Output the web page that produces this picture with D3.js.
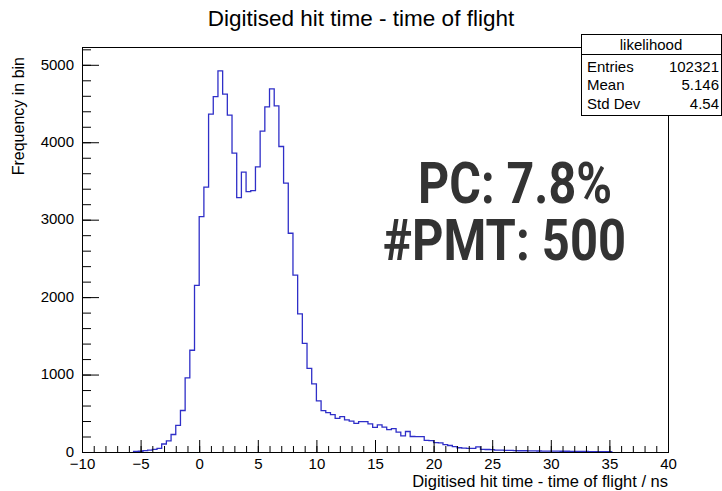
<!DOCTYPE html>
<html>
<head>
    <meta charset="utf-8">
    <title>Digitised hit time - time of flight</title>
    <script src="https://d3js.org/d3.v7.min.js"></script>
    <style>
        body { margin: 0; background: #fff; }
        text { font-family: "Liberation Sans", Arial, sans-serif; }
    </style>
</head>
<body>
    <div id="chart"></div>

    <script>
        // Histogram: bins of 0.4 ns starting at -5.6 ns
        var binStart = -5.6;
        var binWidth = 0.4;
        var counts = [
            8, 10, 18, 25, 35, 47, 103, 144, 226, 345, 536, 958, 1314, 2152,
            3040, 3420, 4363, 4590, 4922, 4621, 4350, 3859, 3286, 3613, 3363, 3376,
            3682, 4143, 4457, 4690, 4470, 3945, 3471, 2825, 2285, 1783, 1404, 1081,
            880, 660, 534, 508, 482, 435, 458, 415, 400, 370, 392, 392, 362, 319,
            350, 322, 288, 303, 256, 209, 265, 200, 198, 198, 150, 148, 120, 118,
            96, 84, 69, 55, 50, 48, 48, 66, 34, 32, 30, 25, 24, 22, 22, 17, 16, 16,
            15, 14, 13, 12, 12, 11, 11, 10, 10, 9, 9, 8, 7, 5, 5, 4, 4, 3
        ];

        // Axis ranges and ticks
        var xDomain = [-10, 40];
        var yMax = 5230;
        var xMajorTicks = [-10, -5, 0, 5, 10, 15, 20, 25, 30, 35, 40];
        var xMinorTicks = d3.range(-10, 41, 1);
        var yMajorTicks = [0, 1000, 2000, 3000, 4000, 5000];
        var yMinorTicks = d3.range(0, 5201, 200);

        // Stats box
        var statsTitle = "likelihood";
        var statsLabels = ["Entries", "Mean", "Std Dev"];
        var statsValues = ["102321", "5.146", "4.54"];

        // Annotation
        var noteLines = ["PC: 7.8%", "#PMT: 500"];

        var W = 722, H = 491;
        var frame = { left: 82, right: 668, top: 47, bottom: 452 };

        var svg = d3.select("#chart")
            .append("svg")
            .attr("width", W)
            .attr("height", H);

        var x = d3.scaleLinear().domain(xDomain).range([frame.left, frame.right]);
        var y = d3.scaleLinear().domain([0, yMax]).range([frame.bottom, frame.top]);

        // title
        svg.append("text")
            .attr("x", W / 2)
            .attr("y", 26)
            .attr("text-anchor", "middle")
            .style("font-size", "22.5px")
            .text("Digitised hit time - time of flight");

        // histogram outline
        var pts = [[binStart, 0]];
        counts.forEach(function(c, i) { pts.push([binStart + i * binWidth, c]); });
        pts.push([binStart + counts.length * binWidth, 0]);

        var line = d3.line()
            .x(function(d) { return x(d[0]); })
            .y(function(d) { return y(d[1]); })
            .curve(d3.curveStepAfter);

        svg.append("path")
            .datum(pts)
            .attr("fill", "none")
            .attr("stroke", "#2f2fc8")
            .attr("stroke-width", 1.3)
            .attr("d", line);

        // frame
        svg.append("rect")
            .attr("x", frame.left + 0.5)
            .attr("y", frame.top + 0.5)
            .attr("width", frame.right - frame.left)
            .attr("height", frame.bottom - frame.top)
            .attr("fill", "none")
            .attr("stroke", "#000");

        // x axis: minor, then major with labels
        svg.append("g")
            .attr("transform", "translate(0," + frame.bottom + ")")
            .call(d3.axisBottom(x).tickValues(xMinorTicks).tickSize(-6).tickFormat(""))
            .call(function(g) { g.select(".domain").remove(); });

        svg.append("g")
            .attr("class", "x-axis")
            .attr("transform", "translate(0," + frame.bottom + ")")
            .call(d3.axisBottom(x).tickValues(xMajorTicks).tickSize(-12).tickPadding(6))
            .call(function(g) { g.select(".domain").remove(); });

        // y axis
        svg.append("g")
            .attr("transform", "translate(" + frame.left + ",0)")
            .call(d3.axisLeft(y).tickValues(yMinorTicks).tickSize(-9).tickFormat(""))
            .call(function(g) { g.select(".domain").remove(); });

        svg.append("g")
            .attr("class", "y-axis")
            .attr("transform", "translate(" + frame.left + ",0)")
            .call(d3.axisLeft(y).tickValues(yMajorTicks).tickSize(-17).tickPadding(8)
                .tickFormat(d3.format("d")))
            .call(function(g) { g.select(".domain").remove(); });

        svg.selectAll(".x-axis text, .y-axis text")
            .attr("fill", "#000")
            .style("font-family", "'Liberation Sans', Arial, sans-serif")
            .style("font-size", "15px");
        svg.select(".y-axis").selectAll(".tick text").attr("dy", "0.28em");
        svg.selectAll(".tick line").attr("stroke", "#000");

        // axis titles
        svg.append("text")
            .attr("x", frame.right)
            .attr("y", 487)
            .attr("text-anchor", "end")
            .style("font-size", "16.5px")
            .text("Digitised hit time - time of flight / ns");

        svg.append("text")
            .attr("transform", "translate(24," + (frame.top + 10) + ") rotate(-90)")
            .attr("text-anchor", "end")
            .style("font-size", "16px")
            .text("Frequency in bin");

        // stats box
        var box = svg.append("g").attr("transform", "translate(581,34)");
        box.append("rect")
            .attr("x", 0.5).attr("y", 0.5)
            .attr("width", 140).attr("height", 81)
            .attr("fill", "#fff").attr("stroke", "#000");
        box.append("line")
            .attr("x1", 0).attr("x2", 141)
            .attr("y1", 20.5).attr("y2", 20.5)
            .attr("stroke", "#000");
        box.append("text")
            .attr("x", 70).attr("y", 16)
            .attr("text-anchor", "middle")
            .style("font-size", "15px")
            .text(statsTitle);
        statsLabels.forEach(function(lab, i) {
            box.append("text")
                .attr("x", 6).attr("y", 38 + i * 18.3)
                .style("font-size", "15px")
                .text(lab);
            box.append("text")
                .attr("x", 138).attr("y", 38 + i * 18.3)
                .attr("text-anchor", "end")
                .style("font-size", "15px")
                .text(statsValues[i]);
        });

        // big annotation
        var notePos = [[418, 203, 194], [383, 260, 243]];
        noteLines.forEach(function(t, i) {
            svg.append("text")
                .attr("x", notePos[i][0])
                .attr("y", notePos[i][1])
                .attr("textLength", notePos[i][2])
                .attr("lengthAdjust", "spacingAndGlyphs")
                .style("font-family", "Roboto, 'DejaVu Sans', sans-serif")
                .style("font-weight", 700)
                .style("font-size", "58px")
                .attr("fill", "#333")
                .text(t);
        });
    </script>
</body>
</html>
